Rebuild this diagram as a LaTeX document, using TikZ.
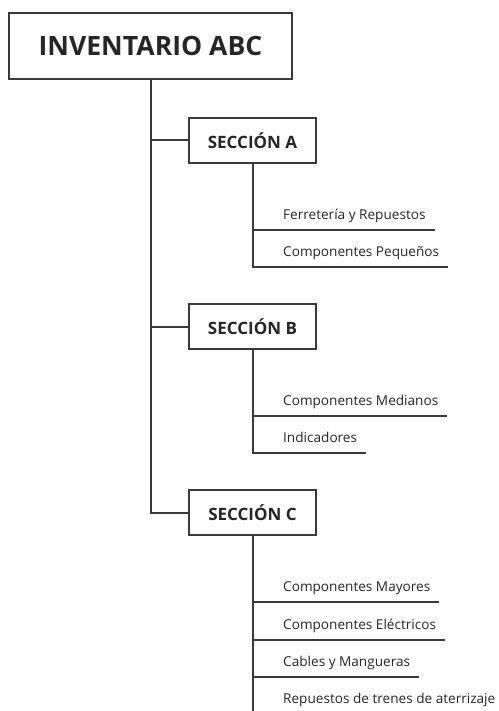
\documentclass[tikz,border=0pt]{standalone}
\usepackage{fontspec}
\setmainfont{Open Sans}
\usetikzlibrary{positioning}
\definecolor{linegray}{HTML}{3A3A3A}
\tikzset{
    title/.style={
        rectangle,
        draw=linegray,
        line width=2pt,
        minimum width=283pt,
        minimum height=66pt,
        font=\fontsize{26.6}{30}\selectfont\bfseries,
        text=black!85,
    },
    sec/.style={
        rectangle,
        draw=linegray,
        line width=2pt,
        minimum width=127pt,
        minimum height=45pt,
        font=\fontsize{17}{20}\selectfont\bfseries,
        text=black!85,
    },
    leaf/.style={
        anchor=south west,
        inner xsep=9pt,
        inner ysep=10pt,
        text depth=0pt,
        font=\fontsize{13.6}{16}\selectfont,
        text=black!85,
    },
    tree/.style={
        draw=linegray,
        line width=2pt,
    },
}

\begin{document}
\begin{tikzpicture}[x=1pt,y=-1pt]
    \useasboundingbox (0,0) rectangle (498,711);

    \node [title] (inv) at (150.5,46) {INVENTARIO ABC};

    \node [sec] (secA) at (252.5,140.5) {SECCIÓN A};
    \node [sec] (secB) at (252.5,326.5) {SECCIÓN B};
    \node [sec] (secC) at (252.5,512.5) {SECCIÓN C};

    \node [leaf] (a1) at (274,230) {Ferretería y Repuestos};
    \node [leaf] (a2) at (274,267) {Componentes Pequeños};

    \node [leaf] (b1) at (274,416) {Componentes Medianos};
    \node [leaf] (b2) at (274,453) {Indicadores};

    \node [leaf] (c1) at (274,602) {Componentes Mayores};
    \node [leaf] (c2) at (274,640) {Componentes Eléctricos};
    \node [leaf] (c3) at (274,677) {Cables y Mangueras};
    \node [leaf] (c4) at (274,714) {Repuestos de trenes de aterrizaje};

    % main trunk
    \draw [tree] (inv.south) |- (secC.west);
    \draw [tree] (inv.south |- secA.west) -- (secA.west);
    \draw [tree] (inv.south |- secB.west) -- (secB.west);

    % section branches
    \draw [tree] (secA.south) |- (a2.south east);
    \draw [tree] (secA.south |- a1.south) -- (a1.south east);
    \draw [tree] (secB.south) |- (b2.south east);
    \draw [tree] (secB.south |- b1.south) -- (b1.south east);
    \draw [tree] (secC.south) |- (c4.south east);
    \draw [tree] (secC.south |- c1.south) -- (c1.south east);
    \draw [tree] (secC.south |- c2.south) -- (c2.south east);
    \draw [tree] (secC.south |- c3.south) -- (c3.south east);
\end{tikzpicture}
\end{document}
